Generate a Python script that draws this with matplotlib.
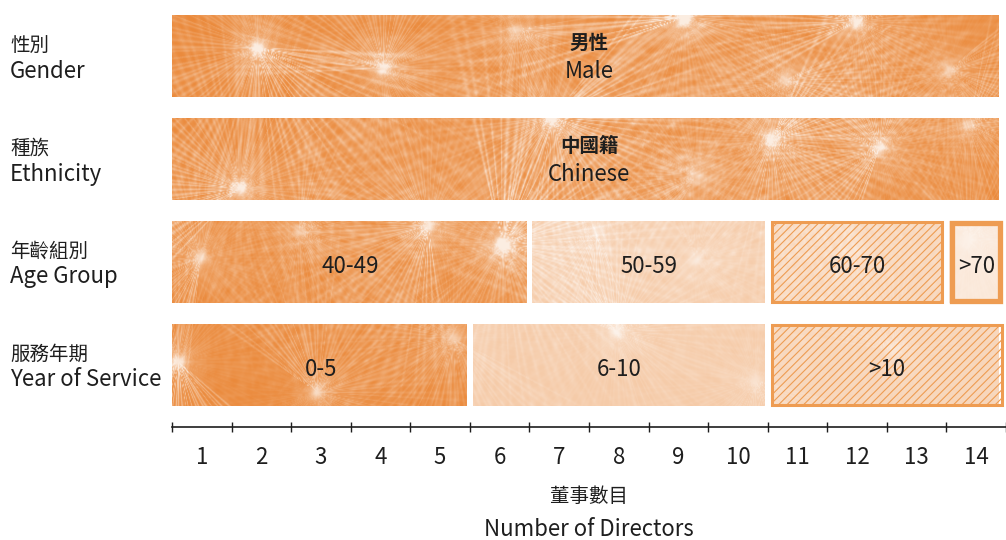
import numpy as np
import matplotlib.pyplot as plt
from matplotlib.patches import Rectangle

plt.rcParams['font.family'] = ['Noto Sans CJK TC', 'DejaVu Sans']
plt.rcParams['font.weight'] = 'normal'

# row captions
rows_zh = ['性別', '種族', '年齡組別', '服務年期']
rows_en = ['Gender', 'Ethnicity', 'Age Group', 'Year of Service']

# segments per row: (chinese label, english label, number of directors)
gender_zh = ['男性']
gender_en = ['Male']
gender_counts = [14]

ethnicity_zh = ['中國籍']
ethnicity_en = ['Chinese']
ethnicity_counts = [14]

age_groups = ['40-49', '50-59', '60-70', '>70']
age_counts = [6, 4, 3, 1]

service_groups = ['0-5', '6-10', '>10']
service_counts = [5, 5, 4]

x_ticks = list(range(1, 15))

ORANGE = np.array([234, 135, 55]) / 255.0
EDGE = '#EE9C52'
TXT = '#1e1e1e'

W_PX, H_PX = 1006, 540
AX_L, AX_B = 172, 113
AX_W, AX_H = W_PX - AX_L, H_PX - AX_B
UNIT = 60.1            # pixels per director
ROW0, ROWSTEP = 56.0, 103.0
XMAX = AX_W / UNIT
YTOP, YBOT = -ROW0 / ROWSTEP, (AX_H - ROW0) / ROWSTEP
BAR_H = 0.8
GAP = 0.1


def starburst_texture():
    """orange background with white dandelion-like streaks (pixel grid of the axes)"""
    gy, gx = np.mgrid[0:AX_H, 0:AX_W].astype(float)
    light = np.zeros_like(gx)
    # seed heads (figure pixels x, y, strength, reach)
    heads = [(258, 48, 0.9, 110), (385, 68, 0.7, 90), (520, 30, 0.4, 80), (688, 18, 1.0, 120),
             (790, 80, 0.5, 90), (862, 22, 0.8, 100), (955, 70, 0.5, 90),
             (240, 188, 0.8, 110), (555, 118, 0.9, 110), (700, 175, 0.4, 80), (776, 140, 0.8, 100),
             (885, 148, 0.7, 90), (975, 125, 0.5, 80),
             (200, 258, 0.6, 90), (300, 232, 0.4, 80), (430, 226, 0.7, 90), (505, 245, 1.0, 110),
             (600, 232, 0.4, 80), (700, 260, 0.3, 80), (860, 250, 0.3, 80), (975, 240, 0.4, 80),
             (178, 362, 0.8, 110), (318, 392, 0.6, 90), (455, 338, 0.5, 90), (620, 332, 0.6, 100),
             (760, 380, 0.4, 80), (900, 350, 0.4, 80)]
    nb = 1440
    th_bins = np.linspace(0, 2 * np.pi, nb, endpoint=False)
    for i, (hx, hy, s, reach) in enumerate(heads):
        # fan of streaks, spaced by the golden angle
        prof = np.zeros(nb)
        for k in range(90):
            a = (k * 2.39996323 + i * 0.7) % (2 * np.pi)
            amp = 0.25 + 0.75 * ((k * 0.618034 + i * 0.37) % 1.0)
            wid = 0.006 + 0.014 * ((k * 0.41421 + i * 0.23) % 1.0)
            d = np.angle(np.exp(1j * (th_bins - a)))
            prof = np.maximum(prof, amp * np.exp(-0.5 * (d / wid) ** 2))
        dx = gx - (hx - AX_L)
        dy = gy - hy
        r = np.hypot(dx, dy)
        th = np.mod(np.arctan2(dy, dx), 2 * np.pi)
        idx = (th / (2 * np.pi) * nb).astype(int) % nb
        rays = prof[idx] ** 1.5 * np.exp(-r / reach) * (1 - np.exp(-(r / 5) ** 2))
        core = 0.7 * np.exp(-(r / 7) ** 2)
        halo = 0.25 * np.exp(-(r / 25) ** 2)
        light += s * (0.7 * rays + core + halo)
    light = np.clip(light, 0, 0.85)
    img = ORANGE[None, None, :] * (1 - light[..., None]) + light[..., None]
    return img


fig = plt.figure(figsize=(W_PX / 100, H_PX / 100), dpi=100)
ax = fig.add_axes([AX_L / W_PX, AX_B / H_PX, AX_W / W_PX, AX_H / H_PX])
ax.set_xlim(0, XMAX)
ax.set_ylim(YBOT, YTOP)

tex = starburst_texture()

# overlay whitening and outline per style
styles = {
    'dark': dict(white=0.0, hatch=None, lw=0),
    'pale': dict(white=0.55, hatch=None, lw=0),
    'hatch': dict(white=0.65, hatch='////', lw=2.2),
    'frame': dict(white=0.8, hatch=None, lw=3.8),
}

rows = [
    (list(zip(gender_zh, gender_en)), gender_counts, ['dark']),
    (list(zip(ethnicity_zh, ethnicity_en)), ethnicity_counts, ['dark']),
    (age_groups, age_counts, ['dark', 'pale', 'hatch', 'frame']),
    (service_groups, service_counts, ['dark', 'pale', 'hatch']),
]

plt.rcParams['hatch.linewidth'] = 0.8

for r, (labels, counts, sty) in enumerate(rows):
    left = 0
    for lab, n, st in zip(labels, counts, sty):
        x0 = left + (GAP / 2 if left > 0 else 0)
        x1 = left + n - GAP / 2
        y0 = r - BAR_H / 2
        spec = styles[st]
        clip = Rectangle((x0, y0), x1 - x0, BAR_H, transform=ax.transData,
                         facecolor='none', edgecolor='none')
        ax.add_patch(clip)
        im = ax.imshow(tex, extent=(0, XMAX, YBOT, YTOP), origin='upper',
                       aspect='auto', interpolation='bilinear', zorder=1)
        im.set_clip_path(clip)
        if spec['white'] > 0:
            ax.add_patch(Rectangle((x0, y0), x1 - x0, BAR_H, facecolor='white',
                                   alpha=spec['white'], edgecolor='none', zorder=2))
        if spec['hatch']:
            ax.add_patch(Rectangle((x0, y0), x1 - x0, BAR_H, facecolor='none',
                                   edgecolor=EDGE, hatch=spec['hatch'], lw=0, zorder=3))
        if spec['lw'] > 0:
            lw_d = spec['lw'] / 72 * 100 / 2 / UNIT
            lw_y = spec['lw'] / 72 * 100 / 2 / ROWSTEP
            ax.add_patch(Rectangle((x0 + lw_d, y0 + lw_y), x1 - x0 - 2 * lw_d,
                                   BAR_H - 2 * lw_y, facecolor='none',
                                   edgecolor=EDGE, lw=spec['lw'], zorder=4))
        xc = (left + left + n) / 2
        if isinstance(lab, tuple):
            ax.text(xc, r - 0.12, lab[0], ha='center', va='center', fontsize=14,
                    fontweight='bold', color=TXT, zorder=5)
            ax.text(xc, r + 0.15, lab[1], ha='center', va='center', fontsize=16,
                    fontweight='normal', color=TXT, zorder=5)
        else:
            ax.text(xc, r + 0.04, lab, ha='center', va='center', fontsize=16,
                    fontweight='normal', color=TXT, zorder=5)
        left += n

# row captions on the left
for r, (zh, en) in enumerate(zip(rows_zh, rows_en)):
    yc = ROW0 + r * ROWSTEP
    fig.text(10 / W_PX, 1 - (yc - 11) / H_PX, zh, ha='left', va='center',
             fontsize=14, fontweight='normal', color=TXT)
    fig.text(10 / W_PX, 1 - (yc + 15) / H_PX, en, ha='left', va='center',
             fontsize=16, fontweight='normal', color=TXT)

# axis: line with boundary ticks, labels between them
for s in ['top', 'left', 'right']:
    ax.spines[s].set_visible(False)
ax.spines['bottom'].set_linewidth(1.2)
ax.spines['bottom'].set_color(TXT)
ax.set_xticks(range(0, 15))
ax.set_xticklabels([])
ax.set_xticks([t - 0.5 for t in x_ticks], minor=True)
ax.set_xticklabels([str(t) for t in x_ticks], minor=True, fontsize=16, color=TXT)
ax.tick_params(axis='x', which='major', direction='inout', length=7, width=1, color=TXT)
ax.tick_params(axis='x', which='minor', length=0, pad=14)
ax.set_yticks([])

fig.text((AX_L + AX_W / 2) / W_PX, 1 - 497 / H_PX, '董事數目', ha='center', va='center',
         fontsize=14, fontweight='normal', color=TXT)
fig.text((AX_L + AX_W / 2) / W_PX, 1 - 530 / H_PX, 'Number of Directors', ha='center',
         va='center', fontsize=16, fontweight='normal', color=TXT)

fig.savefig('out.png', dpi=100)
